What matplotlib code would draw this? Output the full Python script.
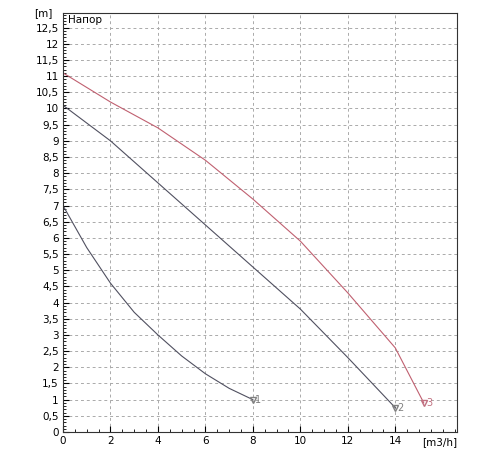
import matplotlib
matplotlib.use("Agg")
import matplotlib.pyplot as plt
import numpy as np
from matplotlib.ticker import MultipleLocator, FuncFormatter, FixedLocator

x1 = [0, 1, 2, 3, 4, 5, 6, 7, 8]
y1 = [7.0, 5.7, 4.6, 3.7, 3.0, 2.35, 1.8, 1.35, 1.0]
x2 = [0, 2, 4, 6, 8, 10, 12, 14]
y2 = [10.1, 9.0, 7.7, 6.4, 5.1, 3.8, 2.3, 0.75]
x3 = [0, 2, 4, 6, 8, 10, 12, 14, 15.2]
y3 = [11.1, 10.2, 9.4, 8.4, 7.2, 5.9, 4.3, 2.6, 0.9]
labels = ["1", "2", "3"]
xticks = [0, 2, 4, 6, 8, 10, 12, 14]

fig = plt.figure(figsize=(5, 4.5), dpi=100)
ax = fig.add_axes([0.126, 0.04, 0.788, 0.931])
ax.plot(x1, y1, color="#505060", lw=0.8)
ax.plot(x2, y2, color="#505060", lw=0.8)
ax.plot(x3, y3, color="#c06070", lw=0.8)
for xs, ys, lb, c in [(x1, y1, labels[0], "#808080"), (x2, y2, labels[1], "#808080"), (x3, y3, labels[2], "#c07080")]:
    ax.plot(xs[-1], ys[-1], marker="v", mfc="none", mec=c, ms=4)
    ax.text(xs[-1] + 0.1, ys[-1], lb, color=c, fontsize=7, va="center")

ax.set_xlim(0, 16.6)
ax.set_ylim(0, 12.95)
ax.xaxis.set_major_locator(FixedLocator(xticks))
ax.xaxis.set_minor_locator(MultipleLocator(0.5))
ax.yaxis.set_major_locator(MultipleLocator(0.5))
ax.yaxis.set_minor_locator(MultipleLocator(0.1))
ax.yaxis.set_major_formatter(FuncFormatter(lambda v, p: ("%g" % v).replace(".", ",")))
ax.tick_params(labelsize=7.5, length=4, direction="in", pad=3)
ax.tick_params(which="minor", length=2, direction="in")
ax.grid(True, which="major", ls=(0, (3, 3)), color="#aaaaaa", lw=0.7)
for s in ax.spines.values():
    s.set_color("#333333")
ax.text(0.2, 12.75, "Напор", fontsize=7.5, va="center")
fig.text(0.105, 0.971, "[m]", fontsize=7.5, ha="right", va="center")
fig.text(0.88, 0.012, "[m3/h]", fontsize=7.5, ha="center")
fig.savefig("out.png")
